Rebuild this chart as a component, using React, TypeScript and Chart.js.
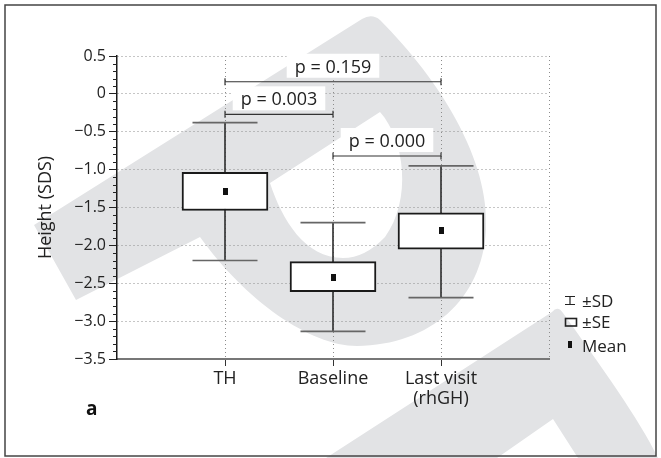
import React, { useEffect, useRef } from 'react';
import { Chart, registerables } from 'chart.js';

Chart.register(...registerables);

// ---------- data ----------
const categories: (string | string[])[] = ['', 'TH', 'Baseline', ['Last visit', '(rhGH)'], ''];
const meanValues = [null, -1.29, -2.42, -1.81, null];
const seLower = [null, -1.54, -2.61, -2.05, null];
const seUpper = [null, -1.035, -2.215, -1.57, null];
const sdLower = [null, -2.2, -3.135, -2.69, null];
const sdUpper = [null, -0.38, -1.7, -0.95, null];

const pLabels = ['p = 0.159', 'p = 0.003', 'p = 0.000'];
const pFrom = [1, 1, 2];
const pTo = [3, 2, 3];
const pLevel = [0.16, -0.27, -0.82];

const yMin = -3.5;
const yMax = 0.5;
const yStep = 0.5;
const yMinorStep = 0.1;
const legendLabels = ['±SD', '±SE', 'Mean'];
const yTitle = 'Height (SDS)';
const panelLetter = 'a';

const FONT = '"Open Sans", "DejaVu Sans", sans-serif';
const INK = '#222';

function fmtTick(v: number): string {
  if (Math.abs(v) < 1e-9) return '0';
  return v < 0 ? '\u2212' + Math.abs(v).toFixed(1) : v.toFixed(1);
}

function drawWatermark(ctx: CanvasRenderingContext2D) {
  ctx.save();
  ctx.fillStyle = '#e2e3e5';
  // big teardrop shape with a counter
  ctx.beginPath();
  ctx.moveTo(34, 225);
  ctx.lineTo(362, 19);
  ctx.quadraticCurveTo(372, 13, 380, 20);
  ctx.bezierCurveTo(440, 80, 490, 160, 486, 230);
  ctx.bezierCurveTo(482, 300, 430, 345, 357, 346);
  ctx.bezierCurveTo(310, 346, 245, 300, 200, 237);
  ctx.lineTo(76, 300);
  ctx.closePath();
  ctx.moveTo(270, 183);
  ctx.lineTo(380, 112);
  ctx.bezierCurveTo(405, 140, 412, 200, 385, 237);
  ctx.quadraticCurveTo(365, 258, 343, 258);
  ctx.bezierCurveTo(305, 258, 282, 220, 270, 183);
  ctx.closePath();
  ctx.fill('evenodd');
  // lower-right shape
  ctx.beginPath();
  ctx.moveTo(326, 458);
  ctx.lineTo(552, 312);
  ctx.quadraticCurveTo(558, 305, 563, 313);
  ctx.bezierCurveTo(600, 365, 640, 420, 658, 458);
  ctx.lineTo(578, 458);
  ctx.lineTo(553, 419);
  ctx.lineTo(497, 458);
  ctx.closePath();
  ctx.fill();
  ctx.restore();
}

const decorPlugin = {
  id: 'decor',
  beforeDraw(chart: any) {
    drawWatermark(chart.ctx);
  },
  afterDatasetsDraw(chart: any) {
    const { ctx, scales } = chart;
    const xs = scales.x;
    const ys = scales.y;
    ctx.save();
    ctx.font = `18px ${FONT}`;
    ctx.textAlign = 'center';
    ctx.textBaseline = 'alphabetic';
    pLabels.forEach((label, k) => {
      const x1 = xs.getPixelForValue(pFrom[k]);
      const x2 = xs.getPixelForValue(pTo[k]);
      const cx = (x1 + x2) / 2;
      const ly = ys.getPixelForValue(pLevel[k]);
      const w = ctx.measureText(label).width + 16;
      const h = 24;
      ctx.fillStyle = '#fff';
      ctx.fillRect(cx - w / 2, ly - 4 - h, w, h);
      ctx.fillStyle = INK;
      ctx.fillText(label, cx, ly - 9);
    });
    ctx.restore();
  },
  afterDraw(chart: any) {
    const { ctx, chartArea, scales } = chart;
    const ys = scales.y;
    ctx.save();
    // minor ticks on y axis
    ctx.strokeStyle = INK;
    ctx.lineWidth = 1;
    const nMinor = Math.round((yMax - yMin) / yMinorStep);
    for (let i = 0; i <= nMinor; i++) {
      const v = yMin + i * yMinorStep;
      const r = v / yStep;
      if (Math.abs(r - Math.round(r)) < 1e-6) continue;
      const py = Math.round(ys.getPixelForValue(v)) + 0.5;
      ctx.beginPath();
      ctx.moveTo(chartArea.left - 4, py);
      ctx.lineTo(chartArea.left, py);
      ctx.stroke();
    }
    // legend
    const lx = chartArea.right + 16;
    const tx = chartArea.right + 33;
    const rows = [chartArea.bottom - 52, chartArea.bottom - 31, chartArea.bottom - 7];
    ctx.font = `17px ${FONT}`;
    ctx.fillStyle = INK;
    ctx.textAlign = 'left';
    ctx.textBaseline = 'alphabetic';
    legendLabels.forEach((t, i) => ctx.fillText(t, tx, rows[i]));
    // SD symbol
    ctx.strokeStyle = INK;
    ctx.lineWidth = 1.2;
    let b = rows[0];
    ctx.beginPath();
    ctx.moveTo(lx, b - 10.5); ctx.lineTo(lx + 10, b - 10.5);
    ctx.moveTo(lx + 5, b - 10.5); ctx.lineTo(lx + 5, b - 2.5);
    ctx.moveTo(lx, b - 2.5); ctx.lineTo(lx + 10, b - 2.5);
    ctx.stroke();
    // SE symbol
    b = rows[1];
    ctx.lineWidth = 1.6;
    ctx.strokeRect(lx + 0.5, b - 9.5, 11, 7.5);
    // mean symbol
    b = rows[2];
    ctx.fillStyle = '#111';
    ctx.fillRect(lx + 3, b - 11, 4, 7);
    // panel letter
    ctx.fillStyle = '#111';
    ctx.font = `bold 19px ${FONT}`;
    ctx.fillText(panelLetter, 86, 415);
    // frame
    ctx.strokeStyle = '#444';
    ctx.lineWidth = 1.5;
    ctx.strokeRect(5, 5, 651, 451);
    ctx.restore();
  },
};

export default function App() {
  const canvasRef = useRef<HTMLCanvasElement | null>(null);

  useEffect(() => {
    const canvas = canvasRef.current;
    if (!canvas) return;

    const meanMarker = document.createElement('canvas');
    meanMarker.width = 5;
    meanMarker.height = 7;
    const mctx = meanMarker.getContext('2d');
    if (mctx) {
      mctx.fillStyle = '#111';
      mctx.fillRect(0, 0, 5, 7);
    }

    const pair = (lo: (number | null)[], hi: (number | null)[]) =>
      lo.map((v, i) => (v == null || hi[i] == null ? null : [v, hi[i] as number]));

    const bracketSets = pLabels.map((_, k) => ({
      type: 'line' as const,
      data: categories.map((_, i) => (i >= pFrom[k] && i <= pTo[k] ? pLevel[k] : null)),
      borderColor: '#333',
      borderWidth: 1.2,
      pointStyle: 'line',
      pointRotation: 90,
      pointRadius: (c: any) => (c.dataIndex === pFrom[k] || c.dataIndex === pTo[k] ? 3.5 : 0),
      pointBorderColor: '#333',
      pointBorderWidth: 1.2,
      spanGaps: false,
      order: 2,
    }));

    const chart = new Chart(canvas, {
      type: 'bar',
      data: {
        labels: categories as any,
        datasets: [
          {
            type: 'bar',
            data: pair(sdLower, sdUpper) as any,
            backgroundColor: '#333',
            borderWidth: 0,
            barThickness: 1,
            grouped: false,
            order: 5,
          } as any,
          {
            type: 'bar',
            data: pair(seLower, seUpper) as any,
            backgroundColor: '#ffffff',
            borderColor: '#1a1a1a',
            borderWidth: 2,
            borderSkipped: false,
            barThickness: 86,
            grouped: false,
            order: 4,
          } as any,
          {
            type: 'line',
            data: sdUpper,
            showLine: false,
            pointStyle: 'line',
            pointRadius: 32.5,
            borderColor: '#666',
            pointBorderColor: '#666',
            pointBorderWidth: 1.6,
            order: 3,
          } as any,
          {
            type: 'line',
            data: sdLower,
            showLine: false,
            pointStyle: 'line',
            pointRadius: 32.5,
            borderColor: '#666',
            pointBorderColor: '#666',
            pointBorderWidth: 1.6,
            order: 3,
          } as any,
          ...(bracketSets as any[]),
          {
            type: 'line',
            data: meanValues,
            showLine: false,
            pointStyle: meanMarker,
            pointRadius: 4,
            order: 1,
          } as any,
        ],
      },
      options: {
        responsive: false,
        animation: false,
        events: [],
        layout: { padding: { left: 0, top: 56, right: 112, bottom: 0 } },
        plugins: {
          legend: { display: false },
          tooltip: { enabled: false },
          title: { display: false },
        },
        scales: {
          x: {
            type: 'category',
            offset: false,
            afterFit: (s: any) => {
              s.height = 99;
            },
            grid: {
              offset: false,
              color: (c: any) => (c.index === 0 ? 'rgba(0,0,0,0)' : '#8c8c8c'),
              lineWidth: 1,
              drawTicks: true,
              tickLength: 7,
              tickColor: (c: any) => (c.index === 0 || c.index === categories.length - 1 ? 'rgba(0,0,0,0)' : '#333'),
              tickWidth: 1,
            },
            border: { display: true, color: '#777', width: 2, dash: [1, 3] },
            ticks: {
              autoSkip: false,
              maxRotation: 0,
              minRotation: 0,
              padding: 3,
              color: INK,
              font: { family: FONT, size: 18, lineHeight: 1.1 },
            },
          },
          y: {
            type: 'linear',
            min: yMin,
            max: yMax,
            afterFit: (s: any) => {
              s.width = 117;
            },
            grid: {
              color: (c: any) => (c.tick && Math.abs(c.tick.value - yMin) < 1e-9 ? 'rgba(0,0,0,0)' : '#8c8c8c'),
              lineWidth: 1,
              drawTicks: true,
              tickLength: 8,
              tickColor: INK,
              tickWidth: 1,
            },
            border: { display: true, color: '#1a1a1a', width: 1.5, dash: [1, 3] },
            ticks: {
              stepSize: yStep,
              padding: 3,
              color: INK,
              font: { family: FONT, size: 16 },
              callback: (v: any) => fmtTick(Number(v)),
            },
            title: {
              display: true,
              text: yTitle,
              color: INK,
              font: { family: FONT, size: 18 },
              padding: { top: 35, bottom: 0 },
            },
          },
        },
      },
      plugins: [decorPlugin as any],
    });

    return () => chart.destroy();
  }, []);

  return (
    <div style={{ position: 'fixed', left: 0, top: 0, width: 661, height: 458, background: '#fff' }}>
      <canvas ref={canvasRef} width={661} height={458} style={{ display: 'block' }} />
    </div>
  );
}
